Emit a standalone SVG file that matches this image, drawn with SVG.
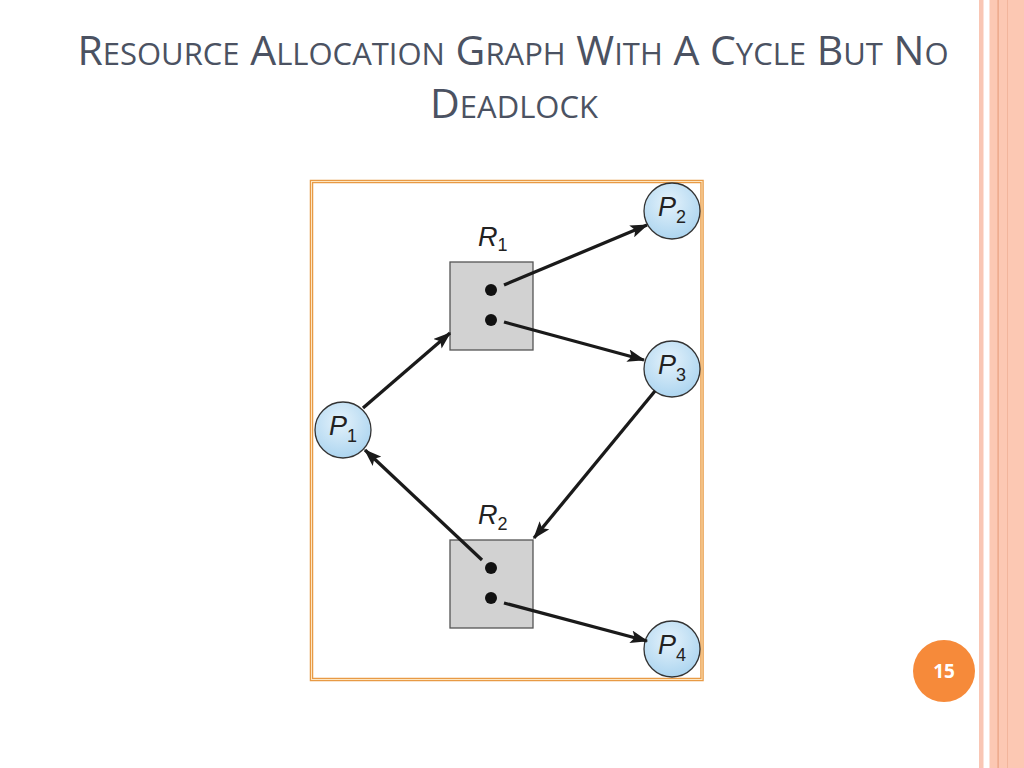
<svg xmlns="http://www.w3.org/2000/svg" width="1024" height="768" viewBox="0 0 1024 768">
<defs>
<style>
.title{font-family:"Open Sans","Liberation Sans",sans-serif;fill:#4b5262;}
.lbl{font-family:"Liberation Sans","Helvetica",sans-serif;font-style:italic;fill:#222;font-size:27px;}
.sub{font-family:"Liberation Sans",sans-serif;font-style:normal;fill:#222;font-size:18px;}
.proc{fill:url(#pg);stroke:#333;stroke-width:1.3;}
.res{fill:#d2d2d2;stroke:#555;stroke-width:1.3;}
.dot{fill:#111;}
.edge{stroke:#1a1a1a;stroke-width:3.3;fill:none;marker-end:url(#ah);}
</style>
<radialGradient id="pg" cx="0.45" cy="0.35" r="0.7">
<stop offset="0" stop-color="#e4f2fb"/>
<stop offset="1" stop-color="#a9d3ef"/>
</radialGradient>
<marker id="ah" viewBox="0 0 14 10" refX="13" refY="5" markerWidth="5.4" markerHeight="3.9" orient="auto" markerUnits="strokeWidth">
<path d="M0,0 L14,5 L0,10 L3,5 z" fill="#1a1a1a"/>
</marker>
</defs>
<rect x="0" y="0" width="1024" height="768" fill="#ffffff"/>
<g id="stripes">
<rect x="979" y="0" width="4.5" height="768" fill="#f9c6b4"/>
<rect x="989.5" y="0" width="34.5" height="768" fill="#fcc8b3"/>
<rect x="997.5" y="0" width="1.2" height="768" fill="#e9a080"/>
<rect x="1007" y="0" width="1" height="768" fill="#f2b59c"/>
</g>
<g id="title">
<text class="title" x="513" y="65" text-anchor="middle" font-size="41">R<tspan font-size="31">ESOURCE</tspan> A<tspan font-size="31">LLOCATION</tspan> G<tspan font-size="31">RAPH</tspan> W<tspan font-size="31">ITH</tspan> A C<tspan font-size="31">YCLE</tspan> B<tspan font-size="31">UT</tspan> N<tspan font-size="31">O</tspan></text>
<text class="title" x="514" y="118" text-anchor="middle" font-size="41">D<tspan font-size="31">EADLOCK</tspan></text>
</g>
<g id="frame">
<rect x="311.5" y="181.5" width="390.5" height="498" fill="#ffffff" stroke="#e89a45" stroke-width="3.5"/>
<rect x="311.5" y="181.5" width="390.5" height="498" fill="none" stroke="#fde6c2" stroke-width="1"/>
</g>
<g id="R1">
<rect class="res" x="450" y="262" width="83" height="88"/>
<circle class="dot" cx="491" cy="290" r="6"/>
<circle class="dot" cx="491" cy="320" r="6"/>
<text class="lbl" x="478" y="246">R<tspan class="sub" dy="5">1</tspan></text>
</g>
<g id="R2">
<rect class="res" x="450" y="540" width="83" height="88"/>
<circle class="dot" cx="491" cy="568" r="6"/>
<circle class="dot" cx="491" cy="598" r="6"/>
<text class="lbl" x="478" y="524">R<tspan class="sub" dy="6">2</tspan></text>
</g>
<g id="P1">
<circle class="proc" cx="343" cy="430" r="28"/>
<text class="lbl" x="329" y="435">P<tspan class="sub" dy="7">1</tspan></text>
</g>
<g id="P2">
<circle class="proc" cx="672" cy="211" r="28"/>
<text class="lbl" x="658" y="216">P<tspan class="sub" dy="7">2</tspan></text>
</g>
<g id="P3">
<circle class="proc" cx="672" cy="369" r="28"/>
<text class="lbl" x="658" y="374">P<tspan class="sub" dy="7">3</tspan></text>
</g>
<g id="P4">
<circle class="proc" cx="672" cy="649" r="28"/>
<text class="lbl" x="658" y="654">P<tspan class="sub" dy="7">4</tspan></text>
</g>
<g id="connectors">
<line class="edge" x1="363" y1="408" x2="450" y2="333"/>
<line class="edge" x1="504" y1="285" x2="647" y2="225"/>
<line class="edge" x1="504" y1="322" x2="644" y2="360"/>
<line class="edge" x1="655" y1="391" x2="534" y2="538"/>
<line class="edge" x1="482" y1="560" x2="365" y2="450"/>
<line class="edge" x1="504" y1="603" x2="647" y2="641"/>
</g>
<g id="page">
<circle cx="944" cy="671" r="31" fill="#f68a3a"/>
<text x="944" y="678" text-anchor="middle" font-family="'Open Sans','Liberation Sans',sans-serif" font-weight="bold" font-size="19" fill="#ffffff">15</text>
</g>
</svg>
